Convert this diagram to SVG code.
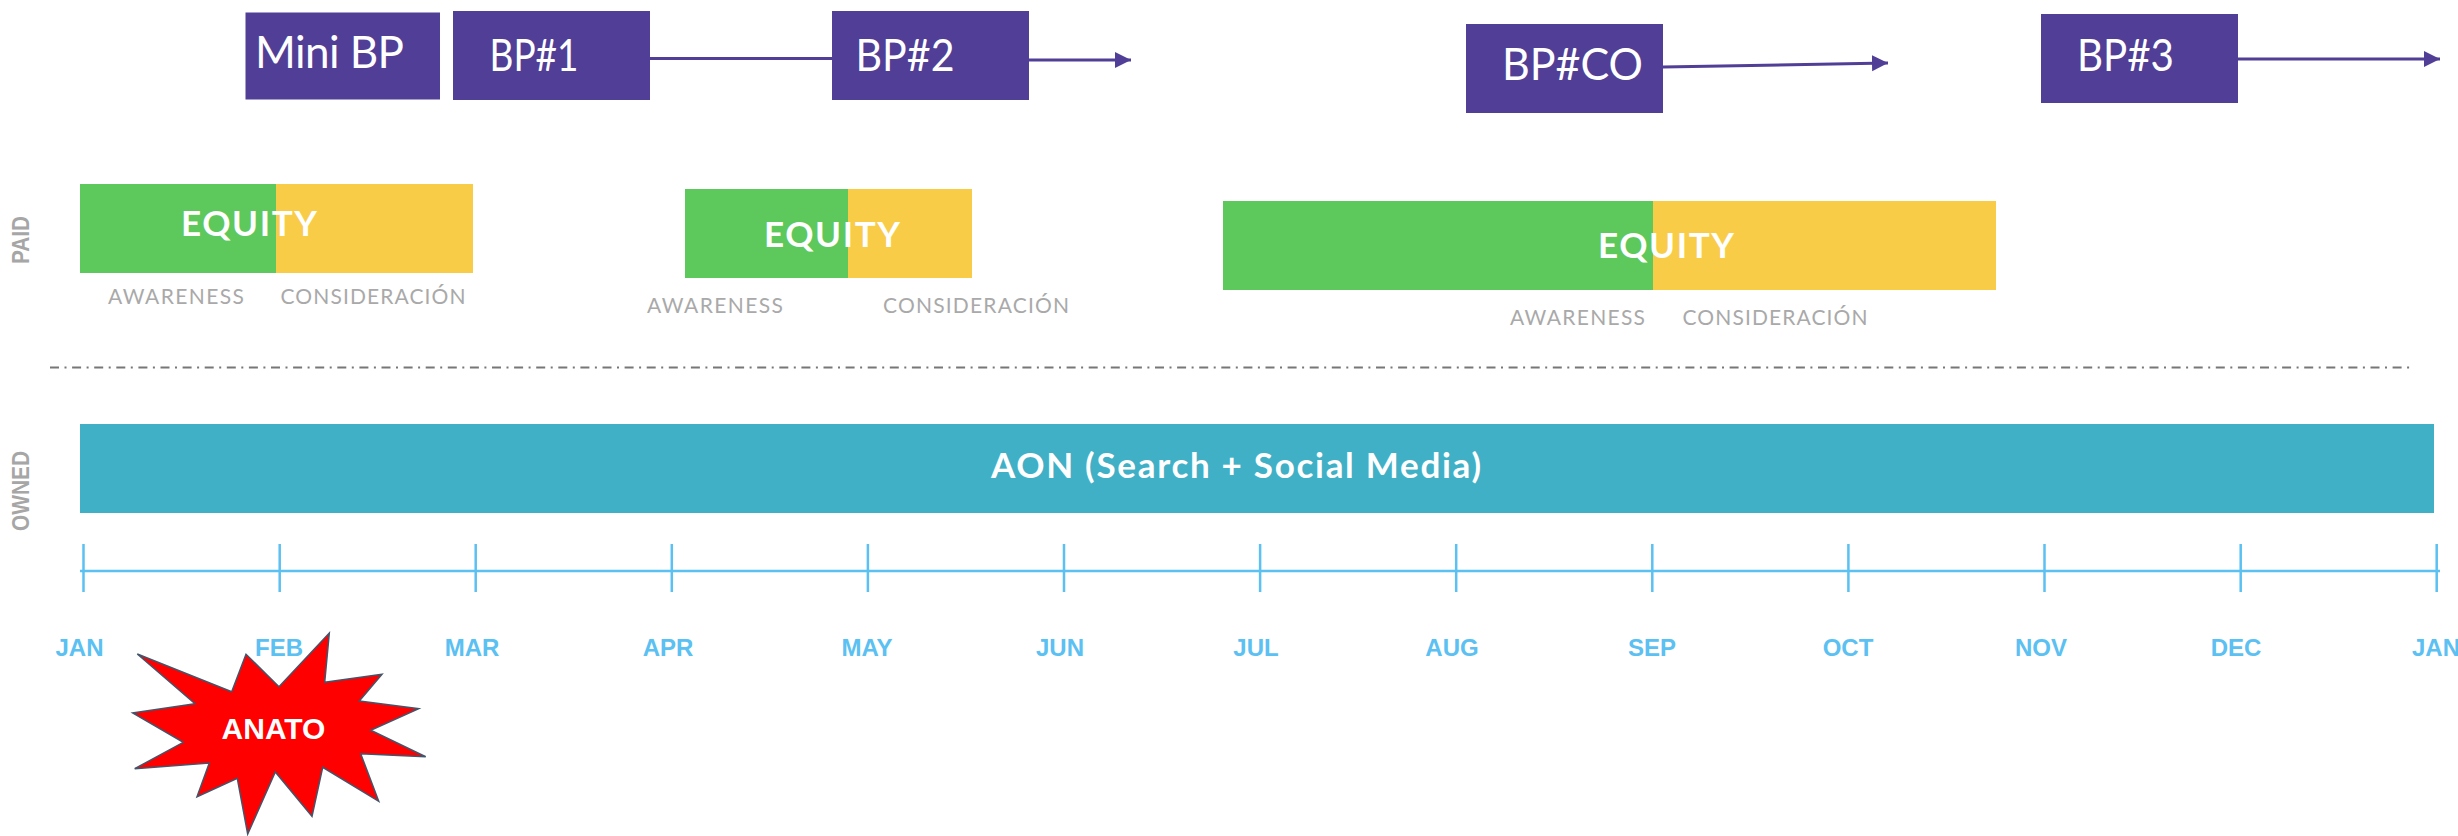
<svg xmlns="http://www.w3.org/2000/svg" width="2458" height="836" viewBox="0 0 2458 836">
<style>
.bp{fill:#513e96}
.g{fill:#5dc85c}
.y{fill:#f9cc48}
.bpt{font-family:"Lato","Liberation Sans",sans-serif;font-size:44px;fill:#fff}
.eq{font-family:"Lato","Liberation Sans",sans-serif;font-size:35px;font-weight:700;fill:#fff}
.sub{font-family:"Lato","Liberation Sans",sans-serif;font-size:21px;fill:#a9a9a9}
.side{font-family:"Liberation Sans",sans-serif;font-size:23px;font-weight:700;fill:#a6a6a6}
.m{font-family:"Liberation Sans",sans-serif;font-size:24px;font-weight:700;fill:#5bc0f2;text-anchor:middle}
.arr{stroke:#513e96;stroke-width:3;fill:none;marker-end:url(#ah)}
.ln{stroke:#513e96;stroke-width:3;fill:none}
.tick{stroke:#5bc0f2;stroke-width:2.5;fill:none}
</style>
<defs><marker id="ah" markerUnits="userSpaceOnUse" markerWidth="17" markerHeight="17" refX="16" refY="8" orient="auto"><path d="M0 0L16 8L0 16Z" fill="#513e96"/></marker></defs>
<rect width="2458" height="836" fill="#fff"/>
<g id="connectors">
<line class="ln" x1="650" y1="58.500" x2="832" y2="58.500"/>
<line class="arr" x1="1029" y1="60" x2="1131" y2="60"/>
<line class="arr" x1="1663" y1="67" x2="1888" y2="63"/>
<line class="arr" x1="2238" y1="59" x2="2440" y2="59"/>
</g>
<g id="mini-bp"><rect class="bp" x="245.500" y="12.500" width="194.500" height="87"/><text class="bpt" x="255" y="68" textLength="149" lengthAdjust="spacing">Mini BP</text></g>
<g id="bp1"><rect class="bp" x="453" y="11" width="197" height="89"/><text class="bpt" x="489.500" y="71" textLength="89" lengthAdjust="spacingAndGlyphs">BP#1</text></g>
<g id="bp2"><rect class="bp" x="832" y="11" width="197" height="89"/><text class="bpt" x="855.500" y="71" textLength="99" lengthAdjust="spacingAndGlyphs">BP#2</text></g>
<g id="bpco"><rect class="bp" x="1466" y="24" width="197" height="89"/><text class="bpt" x="1502" y="80" textLength="141" lengthAdjust="spacingAndGlyphs">BP#CO</text></g>
<g id="bp3"><rect class="bp" x="2041" y="14" width="197" height="89"/><text class="bpt" x="2077" y="71" textLength="97" lengthAdjust="spacingAndGlyphs">BP#3</text></g>
<g id="equity1"><rect class="g" x="80" y="184" width="197" height="89"/><rect class="y" x="276" y="184" width="197" height="89"/><text class="eq" x="181" y="236" textLength="136">EQUITY</text>
<text class="sub" x="108" y="304" textLength="136">AWARENESS</text><text class="sub" x="280.500" y="304" textLength="185">CONSIDERACIÓN</text></g>
<g id="equity2"><rect class="g" x="685" y="189" width="164" height="89"/><rect class="y" x="848" y="189" width="124" height="89"/><text class="eq" x="764" y="247" textLength="136">EQUITY</text>
<text class="sub" x="647" y="313" textLength="136">AWARENESS</text><text class="sub" x="883" y="313" textLength="186">CONSIDERACIÓN</text></g>
<g id="equity3"><rect class="g" x="1223" y="201" width="430" height="89"/><rect class="y" x="1653" y="201" width="343" height="89"/><text class="eq" x="1598" y="258" textLength="136">EQUITY</text>
<text class="sub" x="1510" y="325" textLength="135">AWARENESS</text><text class="sub" x="1682.500" y="325" textLength="185">CONSIDERACIÓN</text></g>
<g id="paid"><text class="side" transform="translate(28.500 264) rotate(-90)" textLength="48" lengthAdjust="spacingAndGlyphs">PAID</text></g>
<g id="owned"><text class="side" transform="translate(28.500 531) rotate(-90)" textLength="80" lengthAdjust="spacingAndGlyphs">OWNED</text></g>
<line id="divider" x1="50" y1="367.500" x2="2412" y2="367.500" stroke="#777" stroke-width="2" stroke-dasharray="9 5.500 2 5.600"/>
<g id="aon"><rect x="80" y="424" width="2354" height="89" fill="#40b0c6"/><text class="eq" x="991" y="478" font-size="34" textLength="490">AON (Search + Social Media)</text></g>
<g id="timeline"><line class="tick" x1="80" y1="571" x2="2440" y2="571"/>
<path class="tick" d="M83.500 544V592M279.700 544V592M475.700 544V592M671.800 544V592M867.900 544V592M1064 544V592M1260.100 544V592M1456.200 544V592M1652.300 544V592M1848.400 544V592M2044.500 544V592M2240.700 544V592M2436.700 544V592"/>
<text class="m" x="79.500" y="656">JAN</text><text class="m" x="279" y="656">FEB</text><text class="m" x="472" y="656">MAR</text><text class="m" x="668" y="656">APR</text><text class="m" x="867" y="656">MAY</text><text class="m" x="1060" y="656">JUN</text><text class="m" x="1256" y="656">JUL</text><text class="m" x="1452" y="656">AUG</text><text class="m" x="1652" y="656">SEP</text><text class="m" x="1848" y="656">OCT</text><text class="m" x="2041" y="656">NOV</text><text class="m" x="2236" y="656">DEC</text><text class="m" x="2436" y="656">JAN</text></g>
<g id="anato"><polygon fill="#ff0000" stroke="#44546a" stroke-width="1.500" points="137.300,654 231.700,691.700 246,654.300 279,686.700 329.300,633 324.700,682.300 382,674.300 359.300,701 418.700,708.700 370.700,730.300 425.700,756.700 360.700,753.700 378.700,801.300 322.700,767.300 312,816.300 275.300,772 247.700,834 237.300,778.300 197,796.700 209.300,763 134.700,768.700 183.300,742.300 132.700,713 195,703.700"/><text x="273.500" y="739" font-family="Liberation Sans,sans-serif" font-size="30" font-weight="700" fill="#fff" text-anchor="middle">ANATO</text></g>
</svg>
